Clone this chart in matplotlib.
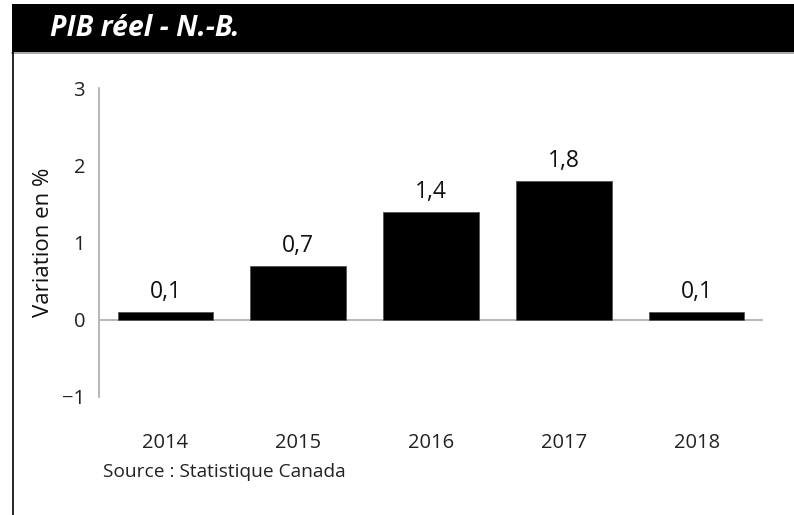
import matplotlib as mpl
import matplotlib.pyplot as plt
import numpy as np

mpl.rcParams["font.family"] = ["Open Sans", "DejaVu Sans"]

# data
years = ["2014", "2015", "2016", "2017", "2018"]
values = [0.1, 0.7, 1.4, 1.8, 0.1]
value_labels = ["0,1", "0,7", "1,4", "1,8", "0,1"]
yticks = [-1, 0, 1, 2, 3]

fig = plt.figure(figsize=(7.94, 5.15), dpi=100)

# header band
W, H = 794.0, 515.0
fig.patches.append(plt.Rectangle((12 / W, 1 - 52 / H), 1, 48 / H, transform=fig.transFigure,
                                 facecolor="black", edgecolor="none"))
fig.lines.append(plt.Line2D([12 / W, 1], [1 - 53 / H, 1 - 53 / H], transform=fig.transFigure,
                            color="#999999", lw=1.2))
fig.lines.append(plt.Line2D([12.5 / W, 12.5 / W], [0, 1 - 52 / H], transform=fig.transFigure,
                            color="black", lw=1.2))
fig.text(50 / W, 1 - 29 / H, "PIB réel - N.-B.", color="white", fontsize=20.5,
         fontweight="bold", fontstyle="italic", va="center", ha="left")

ax = fig.add_axes([99 / W, 1 - 397 / H, 664 / W, 309 / H])
x = np.arange(len(years))
ax.bar(x, values, width=0.72, color="black", edgecolor="#555555", linewidth=0.6, zorder=3)
ax.axhline(0, color="#aaaaaa", lw=1.2, zorder=2)

for xi, v, lab in zip(x, values, value_labels):
    ax.text(xi, v + 0.1, lab, ha="center", va="bottom", fontsize=16.5, color="#111111")

ax.set_xlim(-0.5, 4.5)
ax.set_ylim(-1, 3)
ax.set_xticks(x)
ax.set_xticklabels(years, fontsize=14.5, color="#222222")
ax.set_yticks(yticks)
ax.set_yticklabels([str(t).replace("-", "\u2212") for t in yticks], fontsize=14.5, color="#222222")
ax.tick_params(axis="x", length=0, pad=26)
ax.tick_params(axis="y", length=0, pad=10)

for s in ["top", "right", "bottom"]:
    ax.spines[s].set_visible(False)
ax.spines["left"].set_color("#aaaaaa")
ax.spines["left"].set_linewidth(1.2)

ax.set_ylabel("Variation en %", fontsize=16, color="#111111", labelpad=6)

fig.text(103 / W, 1 - 472 / H, "Source : Statistique Canada", fontsize=13.8,
         color="#222222", va="center", ha="left")

plt.savefig("out.png", dpi=100)
